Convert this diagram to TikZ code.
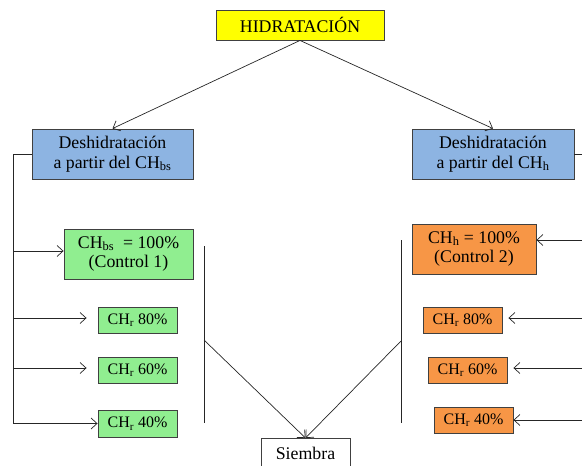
\documentclass[tikz,border=0pt]{standalone}
\usepackage{fontspec}
\setmainfont{Liberation Serif}
\usetikzlibrary{arrows.meta}
\definecolor{boxline}{HTML}{404040}
\definecolor{hidyellow}{HTML}{FFFF00}
\definecolor{deshblue}{HTML}{8DB4E2}
\definecolor{ctlgreen}{HTML}{90EE90}
\definecolor{ctlorange}{HTML}{F79646}
\tikzset{
  box/.style={draw=boxline, line width=0.9pt, align=center, inner sep=0pt,
    font=\fontsize{17.8}{19.5}\selectfont},
  smallbox/.style={box, minimum width=79pt, minimum height=26pt,
    font=\fontsize{16}{18}\selectfont},
  conn/.style={draw=black!85, line width=0.7pt},
  arr/.style={conn, -{Straight Barb[length=6pt,width=11pt]}},
}
\begin{document}
\begin{tikzpicture}[x=1pt, y=-1pt]
\useasboundingbox (0,0) rectangle (582,466);

% top and second level
\node[box, fill=hidyellow, minimum width=168pt, minimum height=30pt] (hid) at (300,25) {HIDRATACIÓN};
\node[box, fill=deshblue, minimum width=161pt, minimum height=50pt] (dl) at (112.5,154)
  {Deshidratación\\a partir del CH\textsubscript{bs}};
\node[box, fill=deshblue, minimum width=162pt, minimum height=50pt] (dr) at (493,154)
  {Deshidratación\\a partir del CH\textsubscript{h}};

% green treatments
\node[box, fill=ctlgreen, minimum width=129pt, minimum height=50pt] (g1) at (128.5,254)
  {CH\textsubscript{bs}\ \ = 100\%\\(Control 1)};
\node[smallbox, fill=ctlgreen] (g2) at (137.5,320) {CH\textsubscript{r} 80\%};
\node[smallbox, fill=ctlgreen] (g3) at (137.5,370) {CH\textsubscript{r} 60\%};
\node[smallbox, fill=ctlgreen, minimum height=27pt] (g4) at (137.5,423.5) {CH\textsubscript{r} 40\%};

% orange treatments
\node[box, fill=ctlorange, minimum width=124pt, minimum height=50pt] (o1) at (474,249)
  {CH\textsubscript{h} = 100\%\\(Control 2)};
\node[smallbox, fill=ctlorange] (o2) at (462.5,320) {CH\textsubscript{r} 80\%};
\node[smallbox, fill=ctlorange] (o3) at (467.5,370) {CH\textsubscript{r} 60\%};
\node[smallbox, fill=ctlorange] (o4) at (473.5,420) {CH\textsubscript{r} 40\%};

% sowing
\node[box, fill=white, minimum width=89pt, minimum height=30pt, anchor=north] (sie) at (305.5,438)
  {\raisebox{-2pt}{Siembra}};

% hydration split
\draw[arr] (hid.south) -- (dl.north);
\draw[arr] (hid.south) -- (dr.north);

% left distribution trunk
\coordinate (lt) at (13,154);
\coordinate (lb) at (13,423.5);
\coordinate (l1) at (13,251);
\coordinate (l2) at (13,318);
\coordinate (l3) at (13,368);
\draw[conn] (dl.west) -- (lt) -- (lb);
\draw[arr] (lb) -- (g4.west);
\draw[arr] (l1) -- (l1 -| g1.west);
\draw[arr, shorten >=11pt] (l2) -- (l2 -| g2.west);
\draw[arr, shorten >=11pt] (l3) -- (l3 -| g3.west);

% right distribution
\coordinate (rt) at (582,154);
\coordinate (r1) at (582,240);
\coordinate (r2) at (582,318);
\coordinate (r3) at (582,368);
\coordinate (r4) at (582,420);
\draw[conn] (dr.east) -- (rt);
\draw[arr] (r1) -- (r1 -| o1.east);
\draw[arr, shorten >=6pt] (r2) -- (r2 -| o2.east);
\draw[arr, shorten >=6pt] (r3) -- (r3 -| o3.east);
\draw[arr] (r4) -- (o4.east);

% grouping bars and convergence to sowing
\coordinate (lbt) at (204,246);
\coordinate (lbb) at (204,423);
\coordinate (lbm) at (204,340);
\coordinate (rbt) at (401,240);
\coordinate (rbb) at (401,423);
\coordinate (rbm) at (401,341);
\draw[conn] (lbt) -- (lbb);
\draw[conn] (rbt) -- (rbb);
\draw[arr] (lbm) -- (sie.north);
\draw[arr] (rbm) -- (sie.north);
\end{tikzpicture}
\end{document}
